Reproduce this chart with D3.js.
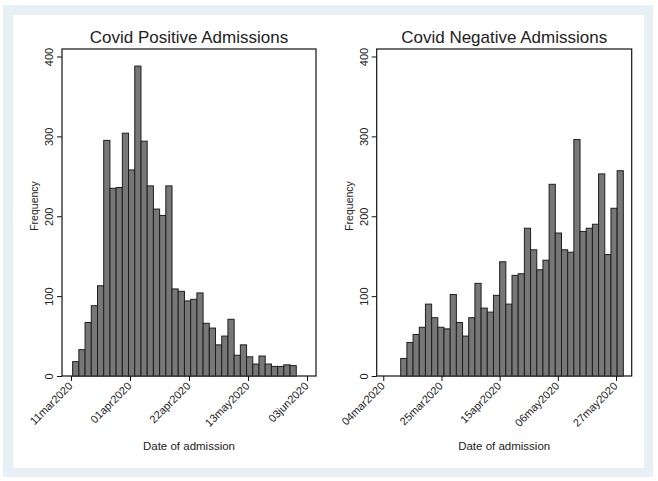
<!DOCTYPE html>
<html>
<head>
<meta charset="utf-8">
<script src="https://cdn.jsdelivr.net/npm/d3@7"></script>
<style>
  html, body { margin: 0; padding: 0; background: #ffffff; }
  svg { display: block; }
  text { font-family: "Liberation Sans", Arial, Helvetica, sans-serif; fill: #222; }
</style>
</head>
<body>
<svg id="chart" width="658" height="481"></svg>
<script>
// ---- Data ----
const positiveCounts = [18, 33, 67, 88, 113, 295, 235, 236, 304, 258, 388, 294, 238, 209, 201, 238,
  109, 106, 94, 96, 104, 66, 60, 39, 50, 71, 26, 39, 24, 15, 25, 15, 12, 12, 14, 13];
const negativeCounts = [22, 42, 52, 61, 90, 73, 61, 59, 102, 67, 50, 73, 116, 85, 80, 101,
  143, 90, 126, 128, 185, 158, 133, 145, 240, 179, 158, 155, 296, 181, 185, 190, 253, 152, 210, 257];
const positiveBinStart = "2020-03-11T14:00";
const negativeBinStart = "2020-03-10T07:00";
const positiveBinDays = 2.211;
const negativeBinDays = 2.232;
const positiveDomain = ["2020-03-07T19:00", "2020-06-06T05:00"];
const negativeDomain = ["2020-03-01T15:00", "2020-06-01T16:00"];
const positiveTicks = ["2020-03-11", "2020-04-01", "2020-04-22", "2020-05-13", "2020-06-03"];
const negativeTicks = ["2020-03-04", "2020-03-25", "2020-04-15", "2020-05-06", "2020-05-27"];
const yTicks = [0, 100, 200, 300, 400];
const titles = ["Covid Positive Admissions", "Covid Negative Admissions"];
const xTitle = "Date of admission";
const yTitle = "Frequency";

// ---- Drawing ----
const svg = d3.select("#chart");
svg.append("rect").attr("x", 3).attr("y", 5).attr("width", 650).attr("height", 472).attr("fill", "#e7f0f4");
svg.append("rect").attr("x", 13).attr("y", 15).attr("width", 631).attr("height", 453).attr("fill", "#ffffff");

const fmt = d3.timeFormat("%d%b%Y");
const label = d => fmt(d).toLowerCase();
const parse = s => new Date(s);
const DAY = 86400000;

const panels = [
  { x0: 62, x1: 316, counts: positiveCounts, start: positiveBinStart, bw: positiveBinDays,
    domain: positiveDomain, ticks: positiveTicks, title: titles[0] },
  { x0: 376.7, x1: 631.7, counts: negativeCounts, start: negativeBinStart, bw: negativeBinDays,
    domain: negativeDomain, ticks: negativeTicks, title: titles[1] }
];

const yTop = 49, yBot = 376;
const y = d3.scaleLinear().domain([0, 400]).range([yBot, 56.5]);

panels.forEach(p => {
  const x = d3.scaleTime().domain(p.domain.map(parse)).range([p.x0, p.x1]);
  const g = svg.append("g");
  const s0 = parse(p.start).getTime();
  const bins = p.counts.map((c, i) => ({
    a: new Date(s0 + i * p.bw * DAY),
    b: new Date(s0 + (i + 1) * p.bw * DAY),
    c
  }));

  // frame
  g.append("rect").attr("x", p.x0).attr("y", yTop).attr("width", p.x1 - p.x0).attr("height", yBot - yTop)
    .attr("fill", "none").attr("stroke", "#111").attr("stroke-width", 1.2);

  // bars
  g.selectAll("rect.bar").data(bins).enter().append("rect").attr("class", "bar")
    .attr("x", d => x(d.a)).attr("width", d => x(d.b) - x(d.a))
    .attr("y", d => y(d.c)).attr("height", d => yBot - y(d.c))
    .attr("fill", "#777777").attr("stroke", "#1e1e1e").attr("stroke-width", 1);

  // y axis
  const ya = g.append("g").attr("transform", `translate(${p.x0},0)`)
    .call(d3.axisLeft(y).tickValues(yTicks).tickSize(5).tickPadding(0).tickFormat(d3.format("d")));
  ya.select(".domain").remove();
  ya.selectAll(".tick line").attr("stroke", "#111");
  ya.selectAll(".tick text").attr("transform", "translate(-9,0) rotate(-90)")
    .attr("x", 0).attr("dy", "0").attr("text-anchor", "middle").style("font-size", "11px").attr("fill", "#222");

  // x axis
  const xa = g.append("g").attr("transform", `translate(0,${yBot})`)
    .call(d3.axisBottom(x).tickValues(p.ticks.map(parse)).tickSize(5).tickFormat(label));
  xa.select(".domain").remove();
  xa.selectAll(".tick line").attr("stroke", "#111");
  xa.selectAll(".tick text").attr("transform", "translate(-1,8) rotate(-45)")
    .attr("y", 0).attr("dy", "0.35em").attr("x", 0).attr("text-anchor", "end")
    .style("font-size", "11px").attr("fill", "#222");

  // titles
  const cx = (p.x0 + p.x1) / 2;
  g.append("text").attr("x", cx).attr("y", 43).attr("text-anchor", "middle")
    .style("font-size", "17px").text(p.title);
  g.append("text").attr("x", cx).attr("y", 450).attr("text-anchor", "middle")
    .style("font-size", "11.5px").text(xTitle);
  g.append("text").attr("transform", `translate(${p.x0 - 24},206) rotate(-90)`).attr("text-anchor", "middle")
    .style("font-size", "10.5px").text(yTitle);
});
</script>
</body>
</html>
